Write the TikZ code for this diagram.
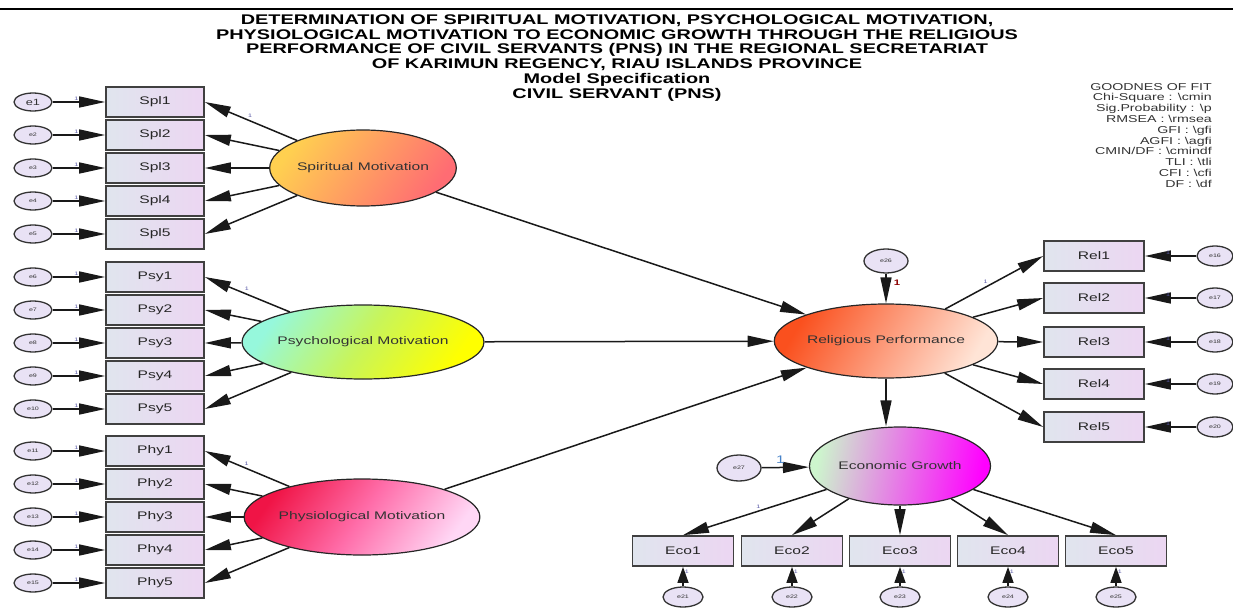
\documentclass[tikz,border=0pt]{standalone}
\usepackage{fontspec}
\setmainfont{Liberation Sans}[FakeStretch=1.42]
\usetikzlibrary{arrows.meta,shapes.geometric}

\definecolor{boxl}{RGB}{224,229,238}
\definecolor{boxr}{RGB}{236,214,242}
\definecolor{errfill}{RGB}{233,226,245}

\tikzset{
  obs/.style={draw=black!75,line width=1.7pt,left color=boxl,right color=boxr,
    minimum width=98pt,minimum height=30pt,inner sep=0pt,
    font=\fontsize{11}{12}\selectfont,text=black!85},
  err/.style={ellipse,draw=black!80,line width=1.3pt,fill=errfill,
    minimum width=38pt,minimum height=18pt,inner sep=0pt,
    font=\fontsize{5}{5}\selectfont,text=black!80},
  lat/.style={ellipse,draw=black!85,line width=1.2pt,minimum width=180pt,
    minimum height=76pt,inner sep=0pt,font=\fontsize{11}{12}\selectfont,text=black!80},
  arr/.style={line width=1.5pt,draw=black!90,-{Triangle[length=26pt,width=11pt]}},
  shortarr/.style={arr,-{Triangle[length=16pt,width=11pt]}},
  one/.style={font=\fontsize{5}{5}\selectfont,text=blue!30!gray,inner sep=1pt},
}

\begin{document}
\begin{tikzpicture}[x=1pt,y=-1pt]
\useasboundingbox (0,0) rectangle (1233,612);
\draw[line width=2pt] (0,9) -- (1233,9);

\node[anchor=north,align=center,font=\bfseries\fontsize{14}{14.8}\selectfont] (title) at (617,11)
  {DETERMINATION OF SPIRITUAL MOTIVATION, PSYCHOLOGICAL MOTIVATION,\\
   PHYSIOLOGICAL MOTIVATION TO ECONOMIC GROWTH THROUGH THE RELIGIOUS\\
   PERFORMANCE OF CIVIL SERVANTS (PNS) IN THE REGIONAL SECRETARIAT\\
   OF KARIMUN REGENCY, RIAU ISLANDS PROVINCE\\
   Model Specification\\
   CIVIL SERVANT (PNS)};

\node[anchor=north east,align=right,inner sep=0pt,text=black!80,font=\fontsize{10}{10.8}\selectfont] (gof) at (1212,83)
  {GOODNES OF FIT\\
   Chi-Square : \textbackslash cmin\\
   Sig.Probability : \textbackslash p\\
   RMSEA : \textbackslash rmsea\\
   GFI : \textbackslash gfi\\
   AGFI : \textbackslash agfi\\
   CMIN/DF : \textbackslash cmindf\\
   TLI : \textbackslash tli\\
   CFI : \textbackslash cfi\\
   DF : \textbackslash df};

\foreach \grp/\yy/\k in {Spl/102/0,Psy/277/5,Phy/451/10}{
  \foreach \j in {1,...,5}{
    \pgfmathtruncatemacro\e{\k+\j}
    \node[obs] (\grp\j) at (155,\yy+33*\j-33) {\grp\j};
    \node[err] (e\e) at (33,\yy+33*\j-33) {\ifnum\e=1 \fontsize{9}{9}\selectfont\fi e\e};
    \draw[arr] (e\e) -- node[one,above,pos=0.45]{1} (\grp\j);
  }
}

\node[lat,left color={rgb,255:red,255;green,208;blue,80},right color={rgb,255:red,255;green,108;blue,115},shading angle=55] (SM) at (363,168) {Spiritual Motivation};
\node[lat,minimum height=74pt,left color={rgb,255:red,150;green,248;blue,220},right color=yellow,middle color={rgb,255:red,200;green,245;blue,90},shading angle=55] (PsM) at (363,342) {Psychological Motivation};
\node[lat,left color={rgb,255:red,240;green,20;blue,70},right color={rgb,255:red,255;green,215;blue,245},middle color={rgb,255:red,255;green,110;blue,170},shading angle=55] (PhM) at (362,517) {Physiological Motivation};

\draw[arr] (SM) -- node[one,above right,pos=0.55]{1} (Spl1.east);
\draw[arr] (PsM) -- node[one,above right,pos=0.55]{1} (Psy1.east);
\draw[arr] (PhM) -- node[one,above right,pos=0.55]{1} (Phy1.east);
\foreach \j in {2,...,5}{
  \draw[arr] (SM) -- (Spl\j.east);
  \draw[arr] (PsM) -- (Psy\j.east);
  \draw[arr] (PhM) -- (Phy\j.east);
}

\node[lat,minimum width=181pt,minimum height=74pt,left color={rgb,255:red,250;green,80;blue,30},right color={rgb,255:red,255;green,228;blue,214},shading angle=60] (RP) at (886,341) {Religious Performance};
\node[err,minimum width=44pt,minimum height=24pt] (e26) at (886,261) {e26};
\draw[arr] (e26) -- node[pos=0.3,right=7pt,inner sep=0pt,font=\bfseries\fontsize{8}{8}\selectfont,text=red!55!black]{1} (RP);

\draw[arr] (SM) -- (RP);
\draw[arr] (PsM) -- (RP);
\draw[arr] (PhM) -- (RP);

\foreach \j/\yy in {1/256,2/298,3/342,4/384,5/427}{
  \pgfmathtruncatemacro\e{15+\j}
  \node[obs,minimum width=100pt] (Rel\j) at (1094,\yy) {Rel\j};
  \node[err,minimum width=36pt,minimum height=20pt] (e\e) at (1215,\yy) {e\e};
  \draw[arr] (e\e) -- node[one,above,pos=0.55]{1} (Rel\j);
}
\draw[arr] (RP) -- node[one,above left,pos=0.45]{1} (Rel1.west);
\foreach \j in {2,...,5} \draw[arr] (RP) -- (Rel\j.west);

\node[lat,minimum width=181pt,minimum height=78pt,left color={rgb,255:red,205;green,245;blue,205},right color=magenta,shading angle=80] (EG) at (900,466) {Economic Growth};
\draw[arr] (RP.south) -- (RP.south |- EG.north);
\node[err,minimum width=44pt,minimum height=26pt] (e27) at (739,468) {e27};
\draw[arr] (e27) -- node[pos=0.4,above=2pt,inner sep=1pt,font=\fontsize{11}{11}\selectfont,text={rgb,255:red,70;green,130;blue,200}]{1} (EG);

\foreach \j/\xx in {1/683,2/792,3/900,4/1008,5/1116}{
  \pgfmathtruncatemacro\e{20+\j}
  \node[obs,minimum width=101pt] (Eco\j) at (\xx,551) {Eco\j};
  \node[err,minimum width=40pt,minimum height=20pt] (e\e) at (\xx,597) {e\e};
  \draw[shortarr] (e\e) -- node[one,right,pos=0.75]{1} (Eco\j);
}
\draw[arr] (EG) -- node[one,above left,pos=0.45]{1} (Eco1.north);
\foreach \j in {2,...,5} \draw[arr] (EG) -- (Eco\j.north);
\end{tikzpicture}
\end{document}
